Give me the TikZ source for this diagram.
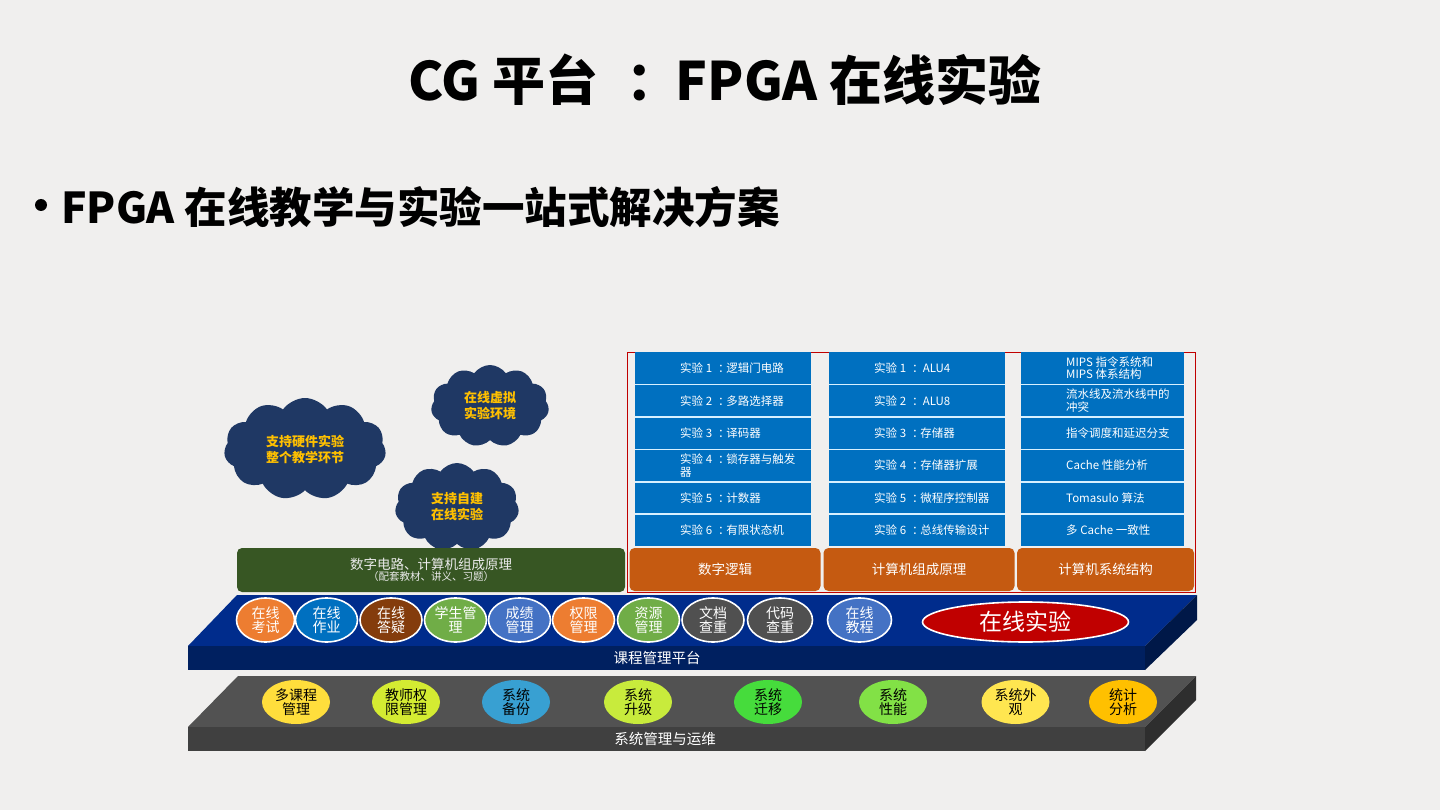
\documentclass[tikz,border=0pt]{standalone}
\usepackage{fontspec}
\setmainfont{Noto Sans CJK SC}
\usetikzlibrary{shapes.geometric,shapes.symbols}
\newcommand\fwcolon{\kern0.3em：\kern-0.3em}
\definecolor{bg}{RGB}{240,239,238}
\definecolor{navycloud}{RGB}{31,56,100}
\definecolor{gold}{RGB}{255,192,0}
\definecolor{dkgreen}{RGB}{55,86,35}
\definecolor{expblue}{RGB}{0,112,192}
\definecolor{sepline}{RGB}{215,240,255}
\definecolor{orangebox}{RGB}{197,90,17}
\definecolor{frame}{RGB}{192,0,0}
\definecolor{navytop}{RGB}{0,44,140}
\definecolor{navyfront}{RGB}{0,32,96}
\definecolor{navyside}{RGB}{0,24,72}
\definecolor{graytop}{RGB}{82,82,82}
\definecolor{grayfront}{RGB}{64,64,64}
\definecolor{grayside}{RGB}{46,46,46}
\definecolor{eorange}{RGB}{237,125,49}
\definecolor{eblue}{RGB}{0,112,192}
\definecolor{ebrown}{RGB}{132,60,12}
\definecolor{egreen}{RGB}{112,173,71}
\definecolor{eblue2}{RGB}{68,114,196}
\definecolor{egray}{RGB}{80,80,80}
\definecolor{ered}{RGB}{192,0,0}
\definecolor{yA}{RGB}{255,222,60}
\definecolor{yB}{RGB}{212,235,50}
\definecolor{yC}{RGB}{56,160,210}
\definecolor{yD}{RGB}{200,235,60}
\definecolor{yE}{RGB}{70,220,60}
\definecolor{yF}{RGB}{130,225,70}
\definecolor{yG}{RGB}{255,230,80}
\definecolor{yH}{RGB}{255,192,0}
\tikzset{
  cloudn/.style={cloud, cloud puffs=11, cloud puff arc=110, cloud ignores aspect,
    fill=navycloud, text=gold, align=center, inner sep=0pt,
    font=\bfseries\fontsize{13}{16}\selectfont},
  expbox/.style={rectangle, fill=expblue, minimum height=32.4pt, inner sep=0pt},
  sep/.style={draw=sepline, line width=1.5pt},
  exptext/.style={anchor=west, text=white, align=left, inner sep=0pt,
    font=\fontsize{11.5}{12.5}\selectfont},
  obox/.style={rectangle, rounded corners=5pt, fill=orangebox, minimum height=43pt,
    text=white, font=\fontsize{13.5}{16}\selectfont},
  pell/.style={ellipse, draw=white, line width=1.6pt, minimum width=62pt,
    minimum height=44pt, inner sep=0pt, text=white, align=center,
    font=\fontsize{14}{14.5}\selectfont},
  sell/.style={ellipse, minimum width=68pt, minimum height=44pt, inner sep=0pt,
    text=black, align=center, font=\fontsize{14}{14.5}\selectfont},
}
\begin{document}
\begin{tikzpicture}[x=1pt,y=-1pt]
\useasboundingbox (0,0) rectangle (1440,810);
\fill[bg] (0,0) rectangle (1440,810);

% title and bullet
\node[font=\bfseries\fontsize{53}{60}\selectfont] (title) at (725,80) {CG 平台 \fwcolon{} FPGA 在线实验};
\node[circle, fill=black, inner sep=0pt, minimum size=12pt] (dot) at (41,205) {};
\node[anchor=west, inner sep=0pt, font=\bfseries\fontsize{42.5}{46}\selectfont] (bullet) at (61,207) {FPGA 在线教学与实验一站式解决方案};

% clouds
\node[cloudn, minimum width=162pt, minimum height=102pt] (cl1) at (305,449) {支持硬件实验\\整个教学环节};
\node[cloudn, minimum width=118pt, minimum height=82pt] (cl2) at (490,406) {在线虚拟\\实验环境};
\node[cloudn, minimum width=124pt, minimum height=88pt] (cl3) at (457,507) {支持自建\\在线实验};

% green box
\node[rectangle, rounded corners=5pt, fill=dkgreen, minimum width=388pt, minimum height=44pt,
  text=white!92!black, align=center, inner sep=0pt] (green) at (431,570)
  {{\fontsize{13.5}{15}\selectfont 数字电路、计算机组成原理}\\[-1pt]{\fontsize{10.5}{12}\selectfont （配套教材、讲义、习题）}};

% red frame
\draw[frame, line width=1pt] (627,352) rectangle (1195,592);

% experiment columns
\foreach \i/\y in {1/368.2,2/400.6,3/433,4/465.4,5/497.8,6/530.2}{
  \node[expbox, minimum width=176pt] (a\i) at (723,\y) {};
  \node[expbox, minimum width=176pt] (b\i) at (917,\y) {};
  \node[expbox, minimum width=163pt] (c\i) at (1102.5,\y) {};
}
\foreach \i in {1,...,5}{
  \draw[sep] (a\i.south west) -- (a\i.south east);
  \draw[sep] (b\i.south west) -- (b\i.south east);
  \draw[sep] (c\i.south west) -- (c\i.south east);
}
\node[exptext] (a1t) at (680,368.2) {实验 1 \fwcolon 逻辑门电路};
\node[exptext] (a2t) at (680,400.6) {实验 2 \fwcolon 多路选择器};
\node[exptext] (a3t) at (680,433) {实验 3 \fwcolon 译码器};
\node[exptext] (a4t) at (680,465.4) {实验 4 \fwcolon 锁存器与触发\\器};
\node[exptext] (a5t) at (680,497.8) {实验 5 \fwcolon 计数器};
\node[exptext] (a6t) at (680,530.2) {实验 6 \fwcolon 有限状态机};
\node[exptext] (b1t) at (874,368.2) {实验 1 \fwcolon{} ALU4};
\node[exptext] (b2t) at (874,400.6) {实验 2 \fwcolon{} ALU8};
\node[exptext] (b3t) at (874,433) {实验 3 \fwcolon 存储器};
\node[exptext] (b4t) at (874,465.4) {实验 4 \fwcolon 存储器扩展};
\node[exptext] (b5t) at (874,497.8) {实验 5 \fwcolon 微程序控制器};
\node[exptext] (b6t) at (874,530.2) {实验 6 \fwcolon 总线传输设计};
\node[exptext] (c1t) at (1066,368.2) {MIPS 指令系统和\\MIPS 体系结构};
\node[exptext] (c2t) at (1066,400.6) {流水线及流水线中的\\冲突};
\node[exptext] (c3t) at (1066,433) {指令调度和延迟分支};
\node[exptext] (c4t) at (1066,465.4) {Cache 性能分析};
\node[exptext] (c5t) at (1066,497.8) {Tomasulo 算法};
\node[exptext] (c6t) at (1066,530.2) {多 Cache 一致性};

% orange course boxes
\node[obox, minimum width=191pt] (o1) at (725,569.5) {数字逻辑};
\node[obox, minimum width=191pt] (o2) at (919,569.5) {计算机组成原理};
\node[obox, minimum width=177pt] (o3) at (1105.5,569.5) {计算机系统结构};

% course management slab
\fill[navytop] (188,646) -- (237,595) -- (1197,595) -- (1145,646) -- cycle;
\fill[navyfront] (188,646) rectangle (1145,670);
\fill[navyside] (1145,646) -- (1197,595) -- (1197,620) -- (1145,670) -- cycle;
\node[text=white, font=\fontsize{14.5}{16}\selectfont] (plat) at (657,658) {课程管理平台};

\node[pell, fill=eorange, minimum width=58pt] (p1) at (265.5,620) {在线\\考试};
\node[pell, fill=eblue] (p2) at (326.5,620) {在线\\作业};
\node[pell, fill=ebrown] (p3) at (391,620) {在线\\答疑};
\node[pell, fill=egreen] (p4) at (455.5,620) {学生管\\理};
\node[pell, fill=eblue2] (p5) at (519.5,620) {成绩\\管理};
\node[pell, fill=eorange] (p6) at (583.5,620) {权限\\管理};
\node[pell, fill=egreen] (p7) at (648.5,620) {资源\\管理};
\node[pell, fill=egray] (p8) at (713,620) {文档\\查重};
\node[pell, fill=egray, minimum width=65pt] (p9) at (780,620) {代码\\查重};
\node[pell, fill=eblue2, minimum width=64pt] (p10) at (859.5,620) {在线\\教程};
\node[pell, fill=ered, minimum width=206pt, minimum height=40pt,
  font=\fontsize{23}{26}\selectfont] (p11) at (1025.5,622) {在线实验};

% system management slab
\fill[graytop] (188,727) -- (238,676) -- (1196,676) -- (1145,727) -- cycle;
\fill[grayfront] (188,727) rectangle (1145,751);
\fill[grayside] (1145,727) -- (1196,676) -- (1196,700) -- (1145,751) -- cycle;
\node[text=white, font=\fontsize{14.5}{16}\selectfont] (sys) at (665,739) {系统管理与运维};

\node[sell, fill=yA] (s1) at (296,702) {多课程\\管理};
\node[sell, fill=yB] (s2) at (406,702) {教师权\\限管理};
\node[sell, fill=yC] (s3) at (516,702) {系统\\备份};
\node[sell, fill=yD] (s4) at (638,702) {系统\\升级};
\node[sell, fill=yE] (s5) at (768,702) {系统\\迁移};
\node[sell, fill=yF] (s6) at (893,702) {系统\\性能};
\node[sell, fill=yG] (s7) at (1015.5,702) {系统外\\观};
\node[sell, fill=yH] (s8) at (1123,702) {统计\\分析};
\end{tikzpicture}
\end{document}
